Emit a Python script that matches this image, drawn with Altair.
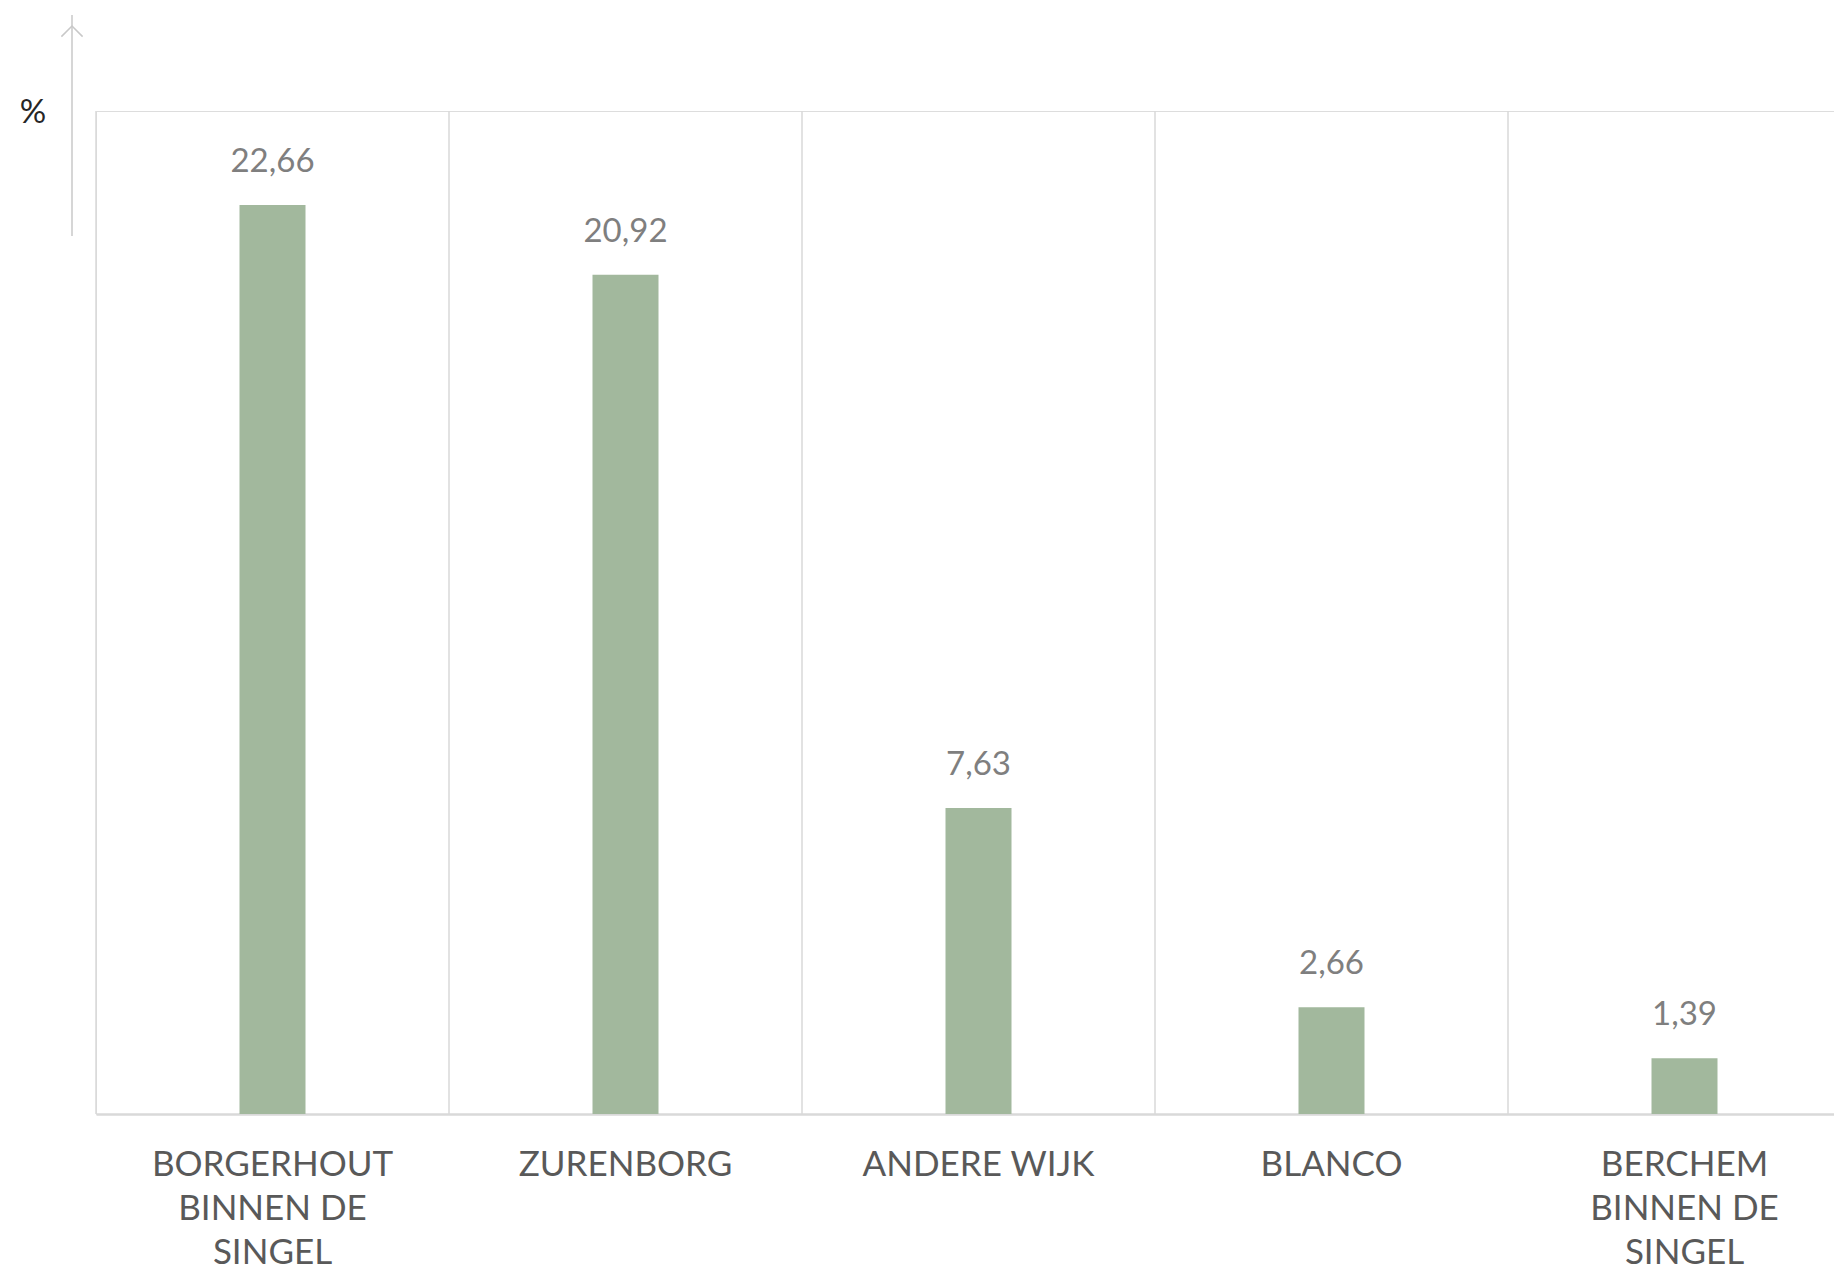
import altair as alt
import pandas as pd

categories = ["BORGERHOUT BINNEN DE SINGEL", "ZURENBORG", "ANDERE WIJK", "BLANCO", "BERCHEM BINNEN DE SINGEL"]
values = [22.66, 20.92, 7.63, 2.66, 1.39]

df = pd.DataFrame({"cat": categories, "val": values})

H = 1003
W = 1738
RANGE_W = 1765

xscale = alt.Scale(domain=categories, range=[0, RANGE_W], paddingInner=0, paddingOuter=0)
yscale = alt.Scale(domain=[0, 25], nice=False)

base = alt.Chart(df)

grid = base.mark_rule(color="#d9d9d9", strokeWidth=1.5).encode(
    x=alt.X("cat:N", sort=categories, scale=xscale, bandPosition=0,
            axis=alt.Axis(title=None, labelAngle=0, ticks=False, grid=False,
                          domain=True, domainColor="#d9d9d9", domainWidth=2.5,
                          labelFont="Lato", labelFontSize=35, labelColor="#595959",
                          labelPadding=33, labelLineHeight=44, labelLimit=0,
                          labelExpr="split(replace(replace(datum.label, ' BINNEN', '|BINNEN'), ' SINGEL', '|SINGEL'), '|')")),
    y=alt.value(0),
    y2=alt.value(H),
)

bars = base.mark_bar(size=66, color="#a2b89d").encode(
    x=alt.X("cat:N", sort=categories, scale=xscale),
    y=alt.Y("val:Q", scale=yscale, axis=None),
)

labels = base.transform_calculate(
    lab="replace(format(datum.val, '.2f'), '.', ',')"
).mark_text(font="Lato", fontSize=33, color="#7f7f7f", baseline="alphabetic", dy=-33).encode(
    x=alt.X("cat:N", sort=categories, scale=xscale),
    y=alt.Y("val:Q", scale=yscale, axis=None),
    text="lab:N",
)

deco_df = pd.DataFrame({"k": [0]})
arrow_line = alt.Chart(deco_df).mark_rule(color="#c8c8c8", strokeWidth=1.5).encode(
    x=alt.value(-24), y=alt.value(-96), y2=alt.value(125)
)
arrow_head = alt.Chart(deco_df).mark_point(
    shape="M -1 1 L 0 0 L 1 1", filled=False, stroke="#c8c8c8", strokeWidth=1.5, size=450, opacity=1
).encode(x=alt.value(-24), y=alt.value(-85))
pct = alt.Chart(deco_df).mark_text(text="%", font="Lato", fontSize=33, color="#262626").encode(
    x=alt.value(-63), y=alt.value(2)
)

chart = alt.layer(grid, bars, labels, arrow_line, arrow_head, pct).properties(
    width=W, height=H,
    autosize=alt.AutoSizeParams(type="none"),
    padding={"left": 88, "top": 103, "right": 0, "bottom": 159},
).configure_view(stroke=None).configure(background="white")

chart.save("out.html", embed_options={"renderer": "svg", "actions": False})
